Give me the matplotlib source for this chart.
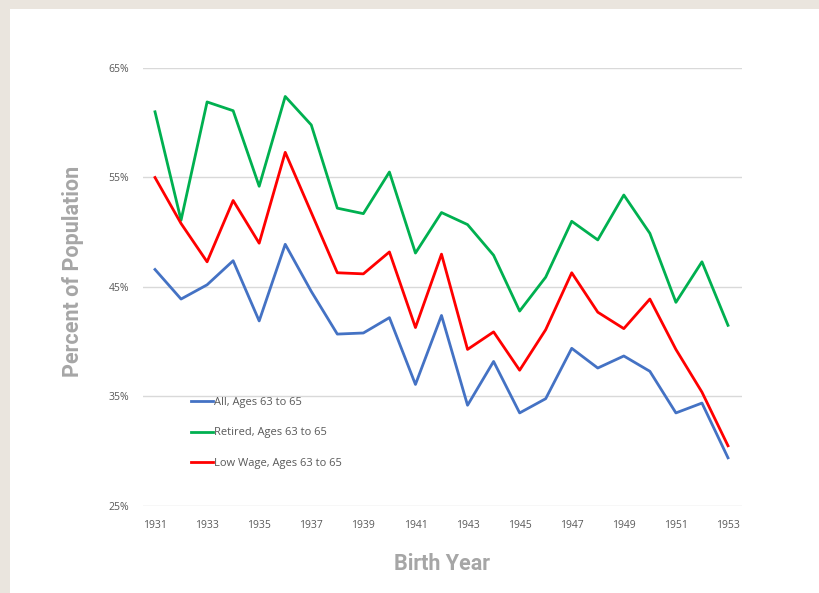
import numpy as np
import matplotlib.pyplot as plt
from matplotlib.patches import Rectangle

# datos
anios = list(range(1931, 1954))
todos = [46.6, 43.9, 45.2, 47.4, 41.9, 48.9, 44.6, 40.7, 40.8, 42.2, 36.1, 42.4,
         34.2, 38.2, 33.5, 34.8, 39.4, 37.6, 38.7, 37.3, 33.5, 34.4, 29.4]
retirados = [61.0, 51.1, 61.9, 61.1, 54.2, 62.4, 59.8, 52.2, 51.7, 55.5, 48.1, 51.8,
             50.7, 47.9, 42.8, 45.9, 51.0, 49.3, 53.4, 49.9, 43.6, 47.3, 41.5]
bajo_salario = [55.0, 50.8, 47.3, 52.9, 49.0, 57.3, 51.8, 46.3, 46.2, 48.2, 41.3, 48.0,
                39.3, 40.9, 37.4, 41.1, 46.3, 42.7, 41.2, 43.9, 39.3, 35.4, 30.5]
etiquetas = ['All, Ages 63 to 65', 'Retired, Ages 63 to 65', 'Low Wage, Ages 63 to 65']
yticks = [25, 35, 45, 55, 65]
xticks = list(range(1931, 1954, 2))

fig = plt.figure(figsize=(8.19, 5.93), dpi=100, facecolor='#EAE5DE')
fig.patches.append(Rectangle((10/819, 0), 1, 1 - 9/593, transform=fig.transFigure,
                             facecolor='white', edgecolor='none', zorder=-10))

ax = fig.add_axes([143/819, 87/593, 599/819, 438/593])
ax.set_facecolor('none')

ax.plot(anios, todos, color='#4472C4', lw=2, label=etiquetas[0])
ax.plot(anios, retirados, color='#00B050', lw=2, label=etiquetas[1])
ax.plot(anios, bajo_salario, color='#FF0000', lw=2, label=etiquetas[2])

ax.set_xlim(1931 - 12/26.05, 1953 + 14/26.05)
ax.set_ylim(25, 65)
ax.set_yticks(yticks)
ax.set_yticklabels([f'{v}%' for v in yticks])
ax.set_xticks(xticks)
ax.set_xticklabels([str(a) for a in xticks])
ax.grid(axis='y', color='#D9D9D9', lw=1)
ax.set_axisbelow(True)
for s in ax.spines.values():
    s.set_visible(False)
ax.tick_params(length=0, labelsize=7.5, labelcolor='#595959', pad=10)
for t in ax.get_xticklabels() + ax.get_yticklabels():
    t.set_family('Open Sans')

ax.set_xlabel('Birth Year', fontsize=15.5, fontweight='bold', color='#A6A6A6',
              family='Roboto', labelpad=16)
ax.set_ylabel('Percent of Population', fontsize=15.5, fontweight='bold', color='#A6A6A6',
              family='Roboto')
ax.yaxis.set_label_coords(-0.099, 0.535)

leg = ax.legend(loc='upper left', bbox_to_anchor=(191/819, 1 - 397/593),
                bbox_transform=fig.transFigure, frameon=False, borderpad=0,
                borderaxespad=0, handlelength=2.0, handletextpad=0.1,
                labelspacing=1.75, prop={'family': 'Open Sans', 'size': 8})
for t in leg.get_texts():
    t.set_color('#595959')

fig.savefig('out.png', dpi=100, facecolor=fig.get_facecolor())
